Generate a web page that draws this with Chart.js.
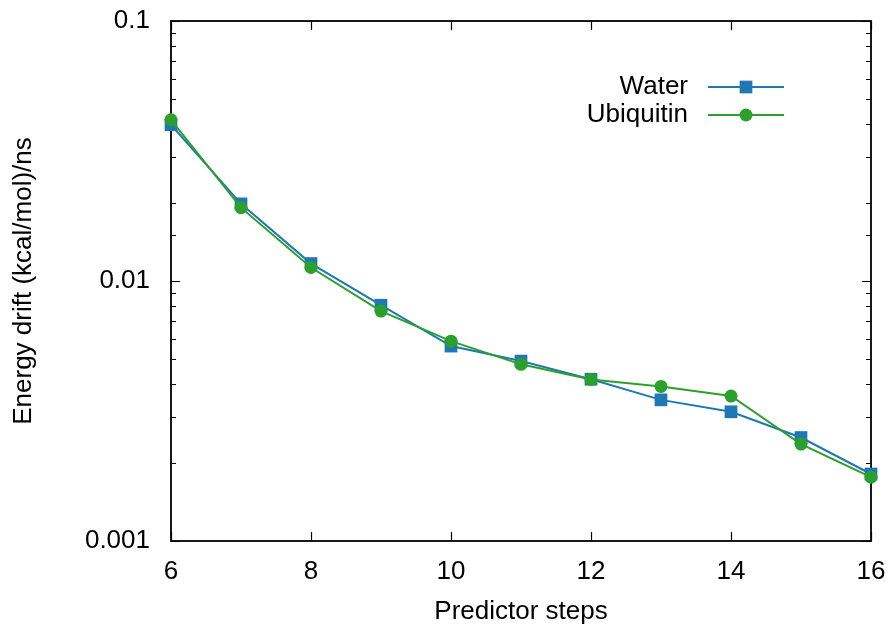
<!DOCTYPE html>
<html>
<head>
<meta charset="utf-8">
<title>Energy drift vs predictor steps</title>
<script src="https://cdn.jsdelivr.net/npm/chart.js@4/dist/chart.umd.min.js"></script>
<style>
  html, body { margin: 0; padding: 0; background: #fff; }
  #wrap { width: 893px; height: 627px; }
</style>
</head>
<body>
<div id="wrap"><canvas id="driftChart" width="893" height="627"></canvas></div>
<script>
'use strict'

// predictor steps on the x axis
const predictorSteps = [6, 7, 8, 9, 10, 11, 12, 13, 14, 15, 16];

// energy drift in (kcal/mol)/ns
const waterDrift = [0.0399, 0.0198, 0.01167, 0.00807, 0.00562, 0.00492, 0.00419, 0.00349, 0.00314, 0.0025, 0.00181];
const ubiquitinDrift = [0.0417, 0.01915, 0.01127, 0.00766, 0.00587, 0.00478, 0.00418, 0.00393, 0.00361, 0.00236, 0.00176];

const yTickLabels = [0.001, 0.01, 0.1];
const xTickLabels = [6, 8, 10, 12, 14, 16];

const seriesNames = ['Water', 'Ubiquitin'];
const blue = '#1f77b4';
const green = '#2ca02c';

const fontFamily = '"Liberation Sans", Arial, Helvetica, sans-serif';
const fontSize = 26;

function toPoints(values) {
    let pts = [];
    for (let i = 0; i < predictorSteps.length; i++) {
        pts.push({x: predictorSteps[i], y: values[i]});
    }
    return pts;
}

// box around the plot with inward tic marks (major + minor on the log axis)
const frameAndTics = {
    id: 'frameAndTics',
    beforeDatasetsDraw(chart) {
        const ctx = chart.ctx;
        const area = chart.chartArea;
        const xs = chart.scales.x;
        const ys = chart.scales.y;
        ctx.save();
        ctx.strokeStyle = '#000';
        ctx.lineWidth = 1.2;
        ctx.beginPath();
        for (let t of ys.ticks) {
            let y = Math.round(ys.getPixelForValue(t.value)) + 0.5;
            let len = yTickLabels.includes(t.value) ? 9 : 5;
            ctx.moveTo(area.left, y);
            ctx.lineTo(area.left + len, y);
            ctx.moveTo(area.right, y);
            ctx.lineTo(area.right - len, y);
        }
        for (let v of xTickLabels) {
            let x = Math.round(xs.getPixelForValue(v)) + 0.5;
            ctx.moveTo(x, area.bottom);
            ctx.lineTo(x, area.bottom - 9);
            ctx.moveTo(x, area.top);
            ctx.lineTo(x, area.top + 9);
        }
        ctx.stroke();
        ctx.lineWidth = 1.8;
        ctx.strokeRect(area.left, area.top, area.right - area.left, area.bottom - area.top);
        ctx.restore();
    }
};

// gnuplot style key: label on the left, line sample with marker on the right
const keyBox = {
    id: 'keyBox',
    afterDraw(chart) {
        const ctx = chart.ctx;
        ctx.save();
        ctx.font = fontSize + 'px ' + fontFamily;
        ctx.textAlign = 'right';
        ctx.textBaseline = 'middle';
        const rows = [87, 115];
        chart.data.datasets.forEach(function(ds, i) {
            let y = rows[i];
            ctx.fillStyle = '#000';
            ctx.fillText(ds.label, 688, y);
            ctx.strokeStyle = ds.borderColor;
            ctx.lineWidth = ds.borderWidth;
            ctx.beginPath();
            ctx.moveTo(708, y);
            ctx.lineTo(784, y);
            ctx.stroke();
            ctx.fillStyle = ds.pointBackgroundColor;
            ctx.strokeStyle = ds.pointBorderColor;
            Chart.helpers.drawPoint(ctx, {
                pointStyle: ds.pointStyle,
                radius: ds.pointRadius,
                rotation: 0,
                borderWidth: 0
            }, 746, y);
        });
        ctx.restore();
    }
};

const ctx = document.getElementById('driftChart').getContext('2d');

const driftChart = new Chart(ctx, {
    type: 'line',
    data: {
        datasets: [{
            label: seriesNames[0],
            data: toPoints(waterDrift),
            borderColor: blue,
            backgroundColor: blue,
            borderWidth: 2,
            pointStyle: 'rect',
            pointRadius: 9,
            pointBackgroundColor: blue,
            pointBorderColor: blue,
            pointBorderWidth: 0,
            tension: 0,
            clip: false,
            order: 2
        },
        {
            label: seriesNames[1],
            data: toPoints(ubiquitinDrift),
            borderColor: green,
            backgroundColor: green,
            borderWidth: 2,
            pointStyle: 'circle',
            pointRadius: 6.5,
            pointBackgroundColor: green,
            pointBorderColor: green,
            pointBorderWidth: 0,
            tension: 0,
            clip: false,
            order: 1
        }]
    },
    options: {
        responsive: false,
        animation: false,
        devicePixelRatio: 1,
        layout: {
            padding: {top: 21, right: 22, left: 0, bottom: 0}
        },
        plugins: {
            legend: {display: false},
            tooltip: {enabled: false}
        },
        scales: {
            x: {
                type: 'linear',
                min: 6,
                max: 16,
                grid: {display: false, drawTicks: false},
                border: {display: false},
                ticks: {
                    stepSize: 2,
                    padding: 15,
                    color: '#000',
                    font: {family: fontFamily, size: fontSize},
                    maxRotation: 0
                },
                title: {
                    display: true,
                    text: 'Predictor steps',
                    color: '#000',
                    font: {family: fontFamily, size: fontSize},
                    padding: {top: 0, bottom: 0}
                },
                afterFit(scale) {
                    scale.height = 86;
                    // keep the end labels from pushing the plot box inward
                    scale.paddingLeft = 0;
                    scale.paddingRight = 0;
                }
            },
            y: {
                type: 'logarithmic',
                min: 0.001,
                max: 0.1,
                grid: {display: false, drawTicks: false},
                border: {display: false},
                ticks: {
                    padding: 21,
                    color: '#000',
                    font: {family: fontFamily, size: fontSize},
                    autoSkip: false,
                    callback: function(value) {
                        return yTickLabels.includes(value) ? String(value) : '';
                    }
                },
                title: {
                    display: true,
                    text: 'Energy drift (kcal/mol)/ns',
                    color: '#000',
                    font: {family: fontFamily, size: fontSize},
                    padding: {top: 8, bottom: 0}
                },
                afterFit(scale) {
                    scale.width = 171;
                    scale.paddingTop = 0;
                    scale.paddingBottom = 0;
                }
            }
        }
    },
    plugins: [frameAndTics, keyBox]
});
</script>
</body>
</html>
